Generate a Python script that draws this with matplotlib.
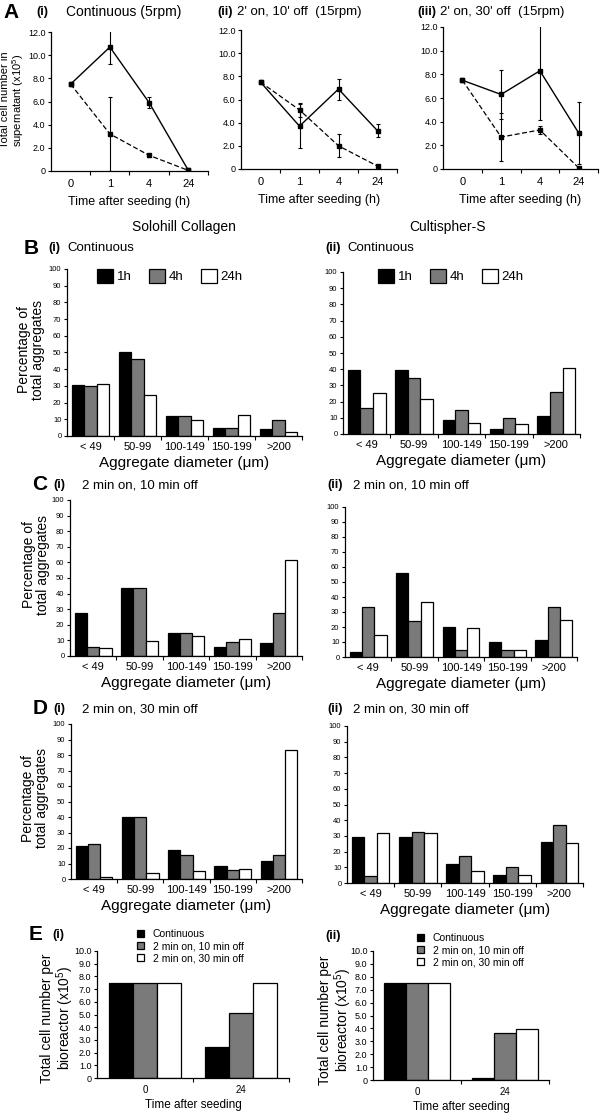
import numpy as np
import matplotlib
matplotlib.use("Agg")
from matplotlib import pyplot as plt
from matplotlib.patches import Patch

plt.rcParams["font.family"] = ["Liberation Sans", "DejaVu Sans"]
plt.rcParams["mathtext.fontset"] = "custom"
plt.rcParams["mathtext.rm"] = "Liberation Sans"
plt.rcParams["axes.linewidth"] = 0.9

# ---- data ----
times = ["0", "1", "4", "24"]
a1_solid = [7.5, 10.7, 5.9, 0.05]
a1_solid_err = [0, 1.5, 0.5, 0.05]
a1_dash = [7.5, 3.2, 1.35, 0.05]
a1_dash_err = [0, 3.2, 0.15, 0]
a2_solid = [7.5, 3.7, 6.9, 3.3]
a2_solid_err = [0, 1.9, 0.9, 0.55]
a2_dash = [7.5, 5.1, 2.0, 0.25]
a2_dash_err = [0, 0.6, 1.0, 0.05]
a3_solid = [7.5, 6.3, 8.3, 3.05]
a3_solid_err = [0, 2.1, 4.2, 2.65]
a3_dash = [7.5, 2.7, 3.3, 0.1]
a3_dash_err = [0, 2.0, 0.3, 0]

sizes = ["< 49", "50-99", "100-149", "150-199", ">200"]
hours = ["1h", "4h", "24h"]
b1 = [[30.3, 50.3, 11.8, 4.6, 4.0], [29.7, 46.1, 12.2, 4.6, 9.4], [31.3, 24.8, 9.4, 12.4, 2.4]]
b2 = [[39.2, 39.6, 8.7, 2.9, 11.1], [15.9, 34.6, 14.8, 10.1, 25.8], [25.2, 21.6, 6.6, 6.2, 41.0]]
c1 = [[27.4, 43.4, 15.0, 6.0, 8.5], [6.0, 43.4, 15.0, 9.0, 27.4], [4.9, 9.8, 13.0, 10.9, 61.5]]
c2 = [[3.3, 56.2, 19.7, 10.2, 11.5], [33.2, 23.7, 4.9, 4.9, 33.2], [14.8, 37.0, 19.2, 4.9, 24.8]]
d1 = [[21.1, 40.0, 18.9, 8.6, 11.8], [22.6, 40.0, 15.3, 6.0, 15.7], [1.5, 4.1, 4.9, 6.7, 83.0]]
d2 = [[29.0, 29.0, 12.3, 5.3, 25.8], [4.7, 32.6, 17.2, 10.2, 36.7], [31.8, 31.8, 7.4, 5.0, 25.4]]

e_times = ["0", "24"]
modes = ["Continuous", "2 min on, 10 min off", "2 min on, 30 min off"]
e1 = [[7.5, 2.45], [7.5, 5.1], [7.5, 7.45]]
e2 = [[7.5, 0.18], [7.5, 3.65], [7.5, 3.95]]

colors = ["black", "#7a7a7a", "white"]

W, H = 601, 1114
fig = plt.figure(figsize=(W / 100, H / 100), dpi=100)


def box(l, t, r, b):
    return fig.add_axes([l / W, 1 - b / H, (r - l) / W, (b - t) / H])


def txt(x, y, s, **kw):
    kw.setdefault("va", "center")
    fig.text(x / W, 1 - y / H, s, **kw)


def vlabel(x, y, s, fs):
    txt(x, y, s, fontsize=fs, rotation=90, ha="center", linespacing=1.0)


def style(ax, n, labels, lab_size, pad):
    for s in ["top", "right"]:
        ax.spines[s].set_visible(False)
    ax.set_xlim(-0.5, n - 0.5)
    ax.set_xticks(np.arange(n) + 0.5)
    ax.set_xticklabels([])
    ax.set_xticks(np.arange(n), minor=True)
    ax.set_xticklabels(labels, minor=True, fontsize=lab_size)
    ax.tick_params(axis="x", which="major", direction="out", length=3, width=0.8)
    ax.tick_params(axis="x", which="minor", length=0, pad=pad)
    ax.tick_params(axis="y", direction="out", length=2.5, width=0.8, pad=1.5)


def line_panel(box_px, solid, solid_err, dash, dash_err):
    ax = box(*box_px)
    x = np.arange(len(times))
    ax.errorbar(x, solid, yerr=solid_err, color="black", lw=1, marker="s",
                ms=3.5, elinewidth=0.8, capsize=1.5, capthick=0.8)
    ax.errorbar(x, dash, yerr=dash_err, color="black", lw=0.9, ls=(0, (4, 2)),
                marker="s", ms=2.2, elinewidth=0.8, capsize=1.5, capthick=0.8)
    style(ax, 4, times, 8, 6)
    ax.set_xlim(-0.5, 3.5)
    ax.set_ylim(0, 12)
    ax.set_yticks(np.arange(0, 13, 2))
    ax.set_yticklabels(["0"] + ["%.1f" % v for v in np.arange(2, 13, 2)], fontsize=6.5)
    ax.set_xlabel("Time after seeding (h)", fontsize=9, labelpad=5)
    return ax


def bar_panel(box_px, vals):
    ax = box(*box_px)
    x = np.arange(len(sizes))
    w = 0.265
    for i, v in enumerate(vals):
        ax.bar(x + (i - 1) * w, v, w, color=colors[i], edgecolor="black", lw=0.9)
    style(ax, 5, sizes, 8, 4.5)
    ax.set_ylim(0, 100)
    ax.set_yticks(np.arange(0, 101, 10))
    ax.tick_params(axis="y", labelsize=5.5)
    ax.set_xlabel("Aggregate diameter (μm)", fontsize=11, labelpad=2.5)
    return ax


def e_panel(box_px, vals):
    ax = box(*box_px)
    x = np.arange(len(e_times))
    w = 0.25
    for i, v in enumerate(vals):
        ax.bar(x + (i - 1) * w, v, w, color=colors[i], edgecolor="black", lw=0.9)
    style(ax, 2, e_times, 7, 5)
    ax.set_ylim(0, 10)
    ax.set_yticks(np.arange(0, 11, 1))
    ax.set_yticklabels(["0"] + ["%.1f" % v for v in np.arange(1, 11, 1)], fontsize=6.5)
    ax.set_xlabel("Time after seeding", fontsize=8.5, labelpad=3)
    return ax


# ---- panel A ----
line_panel((51, 32, 208, 171), a1_solid, a1_solid_err, a1_dash, a1_dash_err)
vlabel(13, 100, "Total cell number in\nsupernatant (x10$^5$)", 8)
line_panel((241, 30, 397, 169), a2_solid, a2_solid_err, a2_dash, a2_dash_err)
line_panel((443, 27, 598, 169), a3_solid, a3_solid_err, a3_dash, a3_dash_err)

txt(3, 12, "A", fontsize=15, fontweight="bold")
txt(36, 12, "(i)", fontsize=9, fontweight="bold")
txt(66, 12, "Continuous (5rpm)", fontsize=10)
txt(217, 12, "(ii)", fontsize=9, fontweight="bold")
txt(237, 12, "2' on, 10' off  (15rpm)", fontsize=9.5)
txt(417, 12, "(iii)", fontsize=9, fontweight="bold")
txt(440, 12, "2' on, 30' off  (15rpm)", fontsize=9.5)

# ---- panels B, C, D ----
bar_panel((67, 269, 302, 436), b1)
bar_panel((343, 272, 580, 434), b2)
bar_panel((70, 500, 302, 656), c1)
bar_panel((345, 507, 577, 657), c2)
bar_panel((71, 724, 302, 879), d1)
bar_panel((347, 726, 583, 883), d2)
vlabel(31, 350, "Percentage of\ntotal aggregates", 10)
vlabel(36, 565, "Percentage of\ntotal aggregates", 10)
vlabel(35, 798, "Percentage of\ntotal aggregates", 10)

handles = [Patch(facecolor=c, edgecolor="black", lw=0.9) for c in colors]
for cx, cy in [(170, 276), (451, 276)]:
    fig.legend(handles, hours, loc="center", bbox_to_anchor=(cx / W, 1 - cy / H),
               ncol=3, frameon=False, fontsize=9.5, handlelength=1.2,
               handleheight=1.35, handletextpad=0.3, columnspacing=1.3,
               borderpad=0, borderaxespad=0)

txt(184, 227, "Solohill Collagen", fontsize=10, ha="center")
txt(447, 227, "Cultispher-S", fontsize=10, ha="center")
txt(24, 248, "B", fontsize=15, fontweight="bold")
txt(48, 248, "(i)", fontsize=9, fontweight="bold")
txt(67, 248, "Continuous", fontsize=9.5)
txt(325, 248, "(ii)", fontsize=9, fontweight="bold")
txt(347, 248, "Continuous", fontsize=9.5)

txt(32, 485, "C", fontsize=15, fontweight="bold")
txt(53, 485, "(i)", fontsize=9, fontweight="bold")
txt(82, 485, "2 min on, 10 min off", fontsize=9.5)
txt(327, 485, "(ii)", fontsize=9, fontweight="bold")
txt(353, 485, "2 min on, 10 min off", fontsize=9.5)

txt(33, 709, "D", fontsize=15, fontweight="bold")
txt(53, 709, "(i)", fontsize=9, fontweight="bold")
txt(82, 709, "2 min on, 30 min off", fontsize=9.5)
txt(327, 709, "(ii)", fontsize=9, fontweight="bold")
txt(353, 709, "2 min on, 30 min off", fontsize=9.5)

# ---- panel E ----
e_panel((97, 951, 289, 1078), e1)
e_panel((373, 951, 549, 1080), e2)
vlabel(58, 1018, "Total cell number per\nbioreactor (x10$^5$)", 10)
vlabel(336, 1020, "Total cell number per\nbioreactor (x10$^5$)", 10)

for lx, ly in [(137, 929), (417, 933)]:
    fig.legend(handles, modes, loc="upper left", bbox_to_anchor=(lx / W, 1 - ly / H),
               frameon=False, fontsize=7.5, handlelength=0.7, handleheight=0.7,
               handletextpad=0.8, labelspacing=0.2, borderpad=0, borderaxespad=0)

txt(29, 935, "E", fontsize=15, fontweight="bold")
txt(52, 935, "(i)", fontsize=9, fontweight="bold")
txt(325, 936, "(ii)", fontsize=9, fontweight="bold")

fig.savefig("out.png", dpi=100)
